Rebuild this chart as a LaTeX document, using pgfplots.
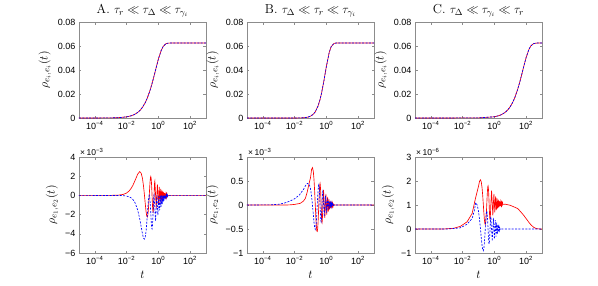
\documentclass[border=0pt]{standalone}
\usepackage{fontspec}
\newfontfamily\sansf{Liberation Sans}
\usepackage{pgfplots}
\pgfplotsset{compat=1.18}
\pgfplotsset{
  every axis/.append style={
    scale only axis, width=127pt, height=96pt, anchor=south west,
    xmode=log, xmin=1e-5, xmax=1e3,
    xtick={1e-4,1e-2,1,1e2},
    xticklabels={10\textsuperscript{−4},10\textsuperscript{−2},10\textsuperscript{0},10\textsuperscript{2}},
    xminorticks=false, yminorticks=false,
    scaled y ticks=false, scaled x ticks=false,
    tick align=inside, major tick length=2.5pt,
    axis line style={black!45}, every tick/.style={black!45},
    tick label style={font=\sansf\fontsize{9}{10}\selectfont, black},
    label style={font=\fontsize{13}{15}\selectfont},
    title style={font=\fontsize{13}{15}\selectfont, yshift=-4.5pt},
  },
}
\tikzset{
  rline/.style={red, line width=0.65pt},
  bline/.style={blue, line width=0.65pt, dash pattern=on 2pt off 1.4pt},
}
\begin{document}
\begin{tikzpicture}
\useasboundingbox (0,0) rectangle (598pt,285pt);
% ---------------- top row ----------------
\begin{axis}[at={(79pt,167pt)}, ymin=0, ymax=0.08, ytick={0,0.02,0.04,0.06,0.08},
  yticklabels={0,0.02,0.04,0.06,0.08}, ylabel={$\rho_{e_i,e_i}(t)$},
  title={A. $\tau_r \ll \tau_\Delta \ll \tau_{\gamma_i}$}]
\addplot[rline] coordinates {(1e-5,0) (1e-3,0.0000962) (3e-3,0.000288) (0.01,0.000954) (0.02,0.00189) (0.03,0.00282) (0.05,0.00463) (0.07,0.00638) (0.1,0.00891) (0.15,0.01288) (0.2,0.01655) (0.3,0.02311) (0.4,0.02872) (0.5,0.03354) (0.7,0.04121) (1,0.04908) (1.5,0.05628) (2,0.05962) (3,0.06188) (4,0.06237) (6,0.06249) (10,0.0625) (1000,0.0625)};
\addplot[bline] coordinates {(1e-5,0) (1e-3,0.0000962) (3e-3,0.000288) (0.01,0.000954) (0.02,0.00189) (0.03,0.00282) (0.05,0.00463) (0.07,0.00638) (0.1,0.00891) (0.15,0.01288) (0.2,0.01655) (0.3,0.02311) (0.4,0.02872) (0.5,0.03354) (0.7,0.04121) (1,0.04908) (1.5,0.05628) (2,0.05962) (3,0.06188) (4,0.06237) (6,0.06249) (10,0.0625) (1000,0.0625)};
\end{axis}
\begin{axis}[at={(247pt,167pt)}, ymin=0, ymax=0.08, ytick={0,0.02,0.04,0.06,0.08},
  yticklabels={0,0.02,0.04,0.06,0.08}, ylabel={$\rho_{e_i,e_i}(t)$},
  title={B. $\tau_\Delta \ll \tau_r \ll \tau_{\gamma_i}$}]
\addplot[rline] coordinates {(1e-5,0) (0.01,0.000018) (0.03,0.000152) (0.05,0.000409) (0.07,0.000775) (0.1,0.001514) (0.15,0.003152) (0.2,0.005196) (0.3,0.01005) (0.4,0.01542) (0.5,0.02087) (0.7,0.03102) (1,0.04296) (1.5,0.05447) (2,0.05942) (3,0.0621) (4,0.0625) (10,0.0625) (1000,0.0625)};
\addplot[bline] coordinates {(1e-5,0) (0.01,0.000018) (0.03,0.000152) (0.05,0.000409) (0.07,0.000775) (0.1,0.001514) (0.15,0.003152) (0.2,0.005196) (0.3,0.01005) (0.4,0.01542) (0.5,0.02087) (0.7,0.03102) (1,0.04296) (1.5,0.05447) (2,0.05942) (3,0.0621) (4,0.0625) (10,0.0625) (1000,0.0625)};
\end{axis}
\begin{axis}[at={(415pt,167pt)}, ymin=0, ymax=0.08, ytick={0,0.02,0.04,0.06,0.08},
  yticklabels={0,0.02,0.04,0.06,0.08}, ylabel={$\rho_{e_i,e_i}(t)$},
  title={C. $\tau_\Delta \ll \tau_{\gamma_i} \ll \tau_r$}]
\addplot[rline] coordinates {(1e-5,0) (0.1,0.000102) (1,0.001016) (2,0.00202) (3,0.0030) (5,0.00492) (7,0.00678) (10,0.00945) (15,0.01362) (20,0.01747) (30,0.02428) (40,0.03006) (50,0.03497) (70,0.04266) (100,0.05037) (150,0.05716) (200,0.06014) (300,0.06204) (500,0.06248) (1000,0.0625)};
\addplot[bline] coordinates {(1e-5,0) (0.1,0.000102) (1,0.001016) (2,0.00202) (3,0.0030) (5,0.00492) (7,0.00678) (10,0.00945) (15,0.01362) (20,0.01747) (30,0.02428) (40,0.03006) (50,0.03497) (70,0.04266) (100,0.05037) (150,0.05716) (200,0.06014) (300,0.06204) (500,0.06248) (1000,0.0625)};
\end{axis}
% ---------------- bottom row ----------------
\begin{axis}[at={(79pt,32pt)}, ymin=-6, ymax=4, ytick={-6,-4,-2,0,2,4},
  yticklabels={−6,−4,−2,0,2,4}, ylabel={$\rho_{e_1,e_2}(t)$}, xlabel={$t$}]
\addplot[rline] coordinates {(1e-5,0) (1e-3,0.003) (3e-3,0.027) (6e-3,0.100) (0.01,0.250) (0.015,0.495) (0.02,0.774) (0.025,1.063) (0.03333,1.525) (0.05,2.219) (0.06667,2.480) (0.08333,2.300) (0.1,1.747) (0.11667,0.934) (0.13333,0) (0.15,-0.906) (0.16667,-1.646) (0.18333,-2.115) (0.2,-2.251) (0.21667,-2.045) (0.23333,-1.539) (0.25,-0.819) (0.26667,0) (0.28333,0.793) (0.3,1.441) (0.31667,1.851) (0.33333,1.970) (0.35,1.790) (0.36667,1.348) (0.38333,0.717) (0.4,0) (0.41667,-0.694) (0.43333,-1.261) (0.45,-1.620) (0.46667,-1.725) (0.48333,-1.567) (0.5,-1.179) (0.51667,-0.628) (0.53333,0) (0.55,0.608) (0.56667,1.104) (0.58333,1.419) (0.6,1.509) (0.73333,-1.321) (0.86667,1.156) (1.0,-1.012) (1.13333,0.885) (1.26667,-0.775) (1.4,0.678) (1.53333,-0.594) (1.66667,0.519) (1.8,-0.455) (1.93333,0.398) (2.06667,-0.348) (2.2,0.305) (2.33333,-0.267) (2.46667,0.233) (2.6,-0.204) (2.73333,0.179) (2.86667,-0.156) (3.0,0.137) (3.13333,-0.120) (3.26667,0.105) (3.4,-0.092) (3.53333,0.080) (3.66667,-0.070) (4,0) (1000,0)};
\addplot[bline] coordinates {(1e-5,0) (3e-3,-0.007) (6e-3,-0.026) (0.01,-0.071) (0.015,-0.158) (0.02,-0.278) (0.025,-0.427) (0.03333,-0.737) (0.05,-1.527) (0.06667,-2.432) (0.08333,-3.307) (0.1,-4.016) (0.11667,-4.452) (0.13333,-4.550) (0.15,-4.305) (0.16667,-3.757) (0.18333,-2.992) (0.2,-2.129) (0.21667,-1.292) (0.23333,-0.603) (0.25,-0.154) (0.26667,0) (0.28333,-0.149) (0.3,-0.564) (0.31667,-1.169) (0.33333,-1.863) (0.35,-2.533) (0.36667,-3.076) (0.38333,-3.409) (0.4,-3.486) (0.41667,-3.298) (0.43333,-2.878) (0.45,-2.293) (0.46667,-1.631) (0.48333,-0.990) (0.5,-0.462) (0.51667,-0.118) (0.53333,0) (0.6,-1.427) (0.66667,-2.670) (0.73333,-1.249) (0.8,0) (0.93333,-2.045) (1.06667,0) (1.2,-1.566) (1.33333,0) (1.46667,-1.200) (1.6,0) (1.73333,-0.919) (1.86667,0) (2.0,-0.704) (2.13333,0) (2.26667,-0.539) (2.4,0) (2.53333,-0.413) (2.66667,0) (2.8,-0.316) (2.93333,0) (3.06667,-0.242) (3.2,0) (3.33333,-0.186) (3.46667,0) (3.6,-0.142) (3.73333,0) (3.86667,-0.109) (4.0,0) (1000,0)};
\end{axis}
\begin{axis}[at={(247pt,32pt)}, ymin=-1, ymax=1, ytick={-1,-0.5,0,0.5,1},
  yticklabels={−1,−0.5,0,0.5,1}, ylabel={$\rho_{e_1,e_2}(t)$}, xlabel={$t$}]
\addplot[rline] coordinates {(1e-5,0) (3.16e-3,0) (6.3e-3,0.005) (0.0112,0.015) (0.0229,0.035) (0.0355,0.08) (0.0479,0.14) (0.0631,0.28) (0.0776,0.42) (0.1,0.566) (0.11667,0.739) (0.13333,0.780) (0.15,0.704) (0.16667,0.526) (0.18333,0.278) (0.2,0) (0.21667,-0.253) (0.23333,-0.438) (0.25,-0.540) (0.26667,-0.550) (0.28333,-0.490) (0.3,-0.361) (0.31667,-0.188) (0.33333,0) (0.35,0.180) (0.36667,0.325) (0.38333,0.420) (0.4,0.450) (0.41667,0.407) (0.43333,0.304) (0.45,0.161) (0.46667,0) (0.48333,-0.153) (0.5,-0.276) (0.51667,-0.351) (0.53333,-0.370) (0.55,-0.333) (0.56667,-0.247) (0.58333,-0.130) (0.6,0) (0.66667,0.310) (0.8,-0.270) (0.93333,0.230) (1.06667,-0.200) (1.2,0.170) (1.33333,-0.140) (1.46667,0.116) (1.6,-0.096) (1.73333,0.079) (1.86667,-0.066) (2.0,0.054) (2.13333,-0.045) (2.26667,0.037) (2.4,-0.031) (2.53333,0.025) (2.66667,-0.021) (2.8,0.017) (3,0) (1000,0)};
\addplot[bline] coordinates {(1e-5,0) (3.16e-4,0.003) (1e-3,0.015) (2.51e-3,0.045) (5.01e-3,0.08) (0.01,0.13) (0.02,0.21) (0.0355,0.32) (0.0501,0.41) (0.0631,0.45) (0.08333,0.434) (0.1,0.339) (0.11667,0.188) (0.13333,0) (0.15,-0.193) (0.16667,-0.361) (0.18333,-0.471) (0.2,-0.510) (0.21667,-0.460) (0.23333,-0.344) (0.25,-0.182) (0.26667,0) (0.28333,0.173) (0.3,0.313) (0.31667,0.399) (0.33333,0.422) (0.35,0.380) (0.36667,0.284) (0.38333,0.150) (0.4,0) (0.41667,-0.143) (0.43333,-0.258) (0.45,-0.330) (0.46667,-0.349) (0.48333,-0.314) (0.5,-0.235) (0.51667,-0.124) (0.53333,0) (0.55,0.118) (0.56667,0.214) (0.58333,0.273) (0.6,0.288) (0.73333,-0.238) (0.86667,0.197) (1.0,-0.163) (1.13333,0.134) (1.26667,-0.111) (1.4,0.092) (1.53333,-0.076) (1.66667,0.063) (1.8,-0.052) (1.93333,0.043) (2.06667,-0.035) (2.2,0.029) (2.33333,-0.024) (2.46667,0.020) (2.6,-0.017) (3,0) (1000,0)};
\end{axis}
\begin{axis}[at={(415pt,32pt)}, ymin=-1, ymax=3, ytick={-1,0,1,2,3},
  yticklabels={−1,0,1,2,3}, ylabel={$\rho_{e_1,e_2}(t)$}, xlabel={$t$}]
\addplot[rline] coordinates {(1e-5,0) (6.31e-4,0) (1e-3,0.01) (2.69e-3,0.03) (7.24e-3,0.11) (0.0191,0.30) (0.0398,0.65) (0.0646,1.28) (0.0832,1.57) (0.1,1.783) (0.11667,1.991) (0.13333,2.050) (0.15,1.957) (0.16667,1.731) (0.18333,1.412) (0.2,1.050) (0.21667,0.701) (0.23333,0.417) (0.25,0.238) (0.26667,0.188) (0.28333,0.268) (0.3,0.462) (0.31667,0.738) (0.33333,1.050) (0.35,1.351) (0.36667,1.596) (0.38333,1.750) (0.4,1.794) (0.41667,1.724) (0.43333,1.557) (0.45,1.319) (0.46667,1.050) (0.48333,0.791) (0.5,0.579) (0.51667,0.447) (0.53333,0.409) (0.55,0.469) (0.56667,0.613) (0.58333,0.818) (0.6,1.050) (0.66667,1.603) (0.8,0.573) (0.93333,1.461) (1.06667,0.696) (1.2,1.356) (1.33333,0.786) (1.46667,1.277) (1.6,0.854) (1.73333,1.219) (1.86667,0.904) (2.0,1.176) (2.13333,0.942) (2.26667,1.143) (2.4,0.969) (2.53333,1.119) (2.66667,0.990) (2.8,1.102) (2.93333,1.005) (3.06667,1.088) (3.2,1.017) (3.33333,1.078) (3.46667,1.025) (5,1.032) (10,0.988) (20,0.902) (30,0.850) (50,0.685) (70,0.573) (100,0.435) (150,0.276) (200,0.175) (300,0.070) (400,0.028) (500,0.011) (700,0.002) (1000,0)};
\addplot[bline] coordinates {(1e-5,0) (1e-3,0) (2.69e-3,0.02) (7.24e-3,0.05) (0.0191,0.20) (0.0398,0.44) (0.0562,0.80) (0.06667,1.100) (0.08333,0.992) (0.1,0.742) (0.11667,0.392) (0.13333,0) (0.15,-0.374) (0.16667,-0.674) (0.18333,-0.860) (0.2,-0.909) (0.21667,-0.820) (0.23333,-0.613) (0.25,-0.324) (0.26667,0) (0.28333,0.309) (0.3,0.557) (0.31667,0.711) (0.33333,0.752) (0.35,0.678) (0.36667,0.507) (0.38333,0.268) (0.4,0) (0.41667,-0.255) (0.43333,-0.461) (0.45,-0.588) (0.46667,-0.621) (0.48333,-0.560) (0.5,-0.419) (0.51667,-0.221) (0.53333,0) (0.55,0.211) (0.56667,0.381) (0.58333,0.486) (0.6,0.513) (0.73333,-0.50) (0.86667,0.46) (1.0,-0.42) (1.13333,0.37) (1.26667,-0.32) (1.4,0.27) (1.53333,-0.22) (1.66667,0.17) (1.8,-0.13) (1.93333,0.09) (2.06667,-0.06) (2.2,0.04) (2.33333,-0.02) (2.5,0) (1000,0)};
\end{axis}
% scale labels placed at the top-left corner of each lower axis box
\node[anchor=south west, inner sep=1pt, font=\sansf\fontsize{8.5}{10}\selectfont] at (79pt,128pt) {×\,10\textsuperscript{−3}};
\node[anchor=south west, inner sep=1pt, font=\sansf\fontsize{8.5}{10}\selectfont] at (247pt,128pt) {×\,10\textsuperscript{−3}};
\node[anchor=south west, inner sep=1pt, font=\sansf\fontsize{8.5}{10}\selectfont] at (415pt,128pt) {×\,10\textsuperscript{−6}};
\end{tikzpicture}
\end{document}
